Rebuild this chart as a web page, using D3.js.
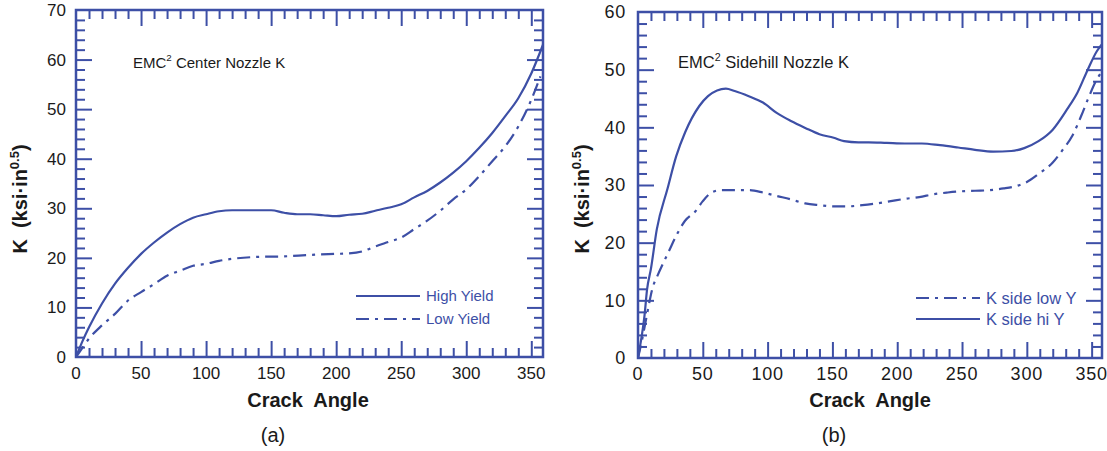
<!DOCTYPE html>
<html>
<head>
<meta charset="utf-8">
<script src="https://cdn.jsdelivr.net/npm/d3@7"></script>
<style>
  body { margin: 0; background: #fff; }
  svg { font-family: "Liberation Sans", Arial, sans-serif; }
  text { white-space: pre; }
</style>
</head>
<body>
<div id="chart"></div>
<script>
// ---- data ----
// panel (a) center nozzle
const highAngles = [0, 5, 10, 20, 30, 40, 50, 60, 70, 80, 90, 100, 110, 120, 130, 140, 150, 160, 170, 180, 190, 200, 210, 220, 230, 240, 250, 260, 270, 280, 290, 300, 310, 320, 330, 340, 350, 359];
const highK = [0, 3.2, 6, 10.8, 14.8, 18, 20.8, 23.1, 25.1, 26.8, 28.1, 28.8, 29.4, 29.6, 29.6, 29.6, 29.6, 29.1, 28.8, 28.8, 28.6, 28.4, 28.7, 28.9, 29.5, 30.1, 30.8, 32.2, 33.5, 35.2, 37.2, 39.5, 42.2, 45.2, 48.6, 52.2, 57.2, 63];
const lowAngles = [0, 4, 10, 20, 30, 40, 50, 60, 70, 80, 90, 100, 110, 120, 140, 160, 180, 200, 210, 220, 230, 240, 250, 260, 270, 280, 290, 300, 310, 320, 330, 340, 350, 357];
const lowK = [0, 1.5, 3.7, 6.4, 8.7, 11.4, 13.1, 14.7, 16.4, 17.4, 18.4, 18.8, 19.4, 19.8, 20.2, 20.3, 20.6, 20.8, 20.9, 21.3, 22.3, 23.2, 24.1, 25.8, 27.5, 29.5, 31.8, 33.8, 36.5, 39.5, 42.5, 46.5, 51.9, 56.6];

// panel (b) sidehill nozzle
const hiYAngles = [0, 3, 5, 7, 10, 14.5, 22.7, 29.5, 36.3, 47.3, 54, 61, 67.8, 74.6, 85.5, 96.4, 107, 118, 129, 140, 151, 159, 170, 178, 192, 206, 219, 233, 247, 260, 274, 288, 298, 309, 320, 331, 339, 347, 354, 358];
const hiYK = [0, 4, 7.3, 11.9, 15.5, 22.3, 29.3, 35, 39.1, 43.7, 45.4, 46.4, 46.7, 46.3, 45.4, 44.3, 42.5, 41.1, 39.9, 38.8, 38.2, 37.6, 37.4, 37.4, 37.3, 37.2, 37.2, 36.9, 36.5, 36.1, 35.8, 35.9, 36.4, 37.6, 39.6, 43.1, 46, 50, 53.2, 54.4];
const lowYAngles = [0, 3, 6.3, 11.7, 14.5, 24, 29.5, 36.3, 44.5, 50, 56.8, 63.7, 74.6, 85.5, 96.4, 107, 118, 129, 140, 151, 162, 173, 184, 195, 206, 217, 228, 239, 249, 260, 271, 282, 293, 299, 309, 320, 328, 335, 342, 347, 354, 358];
const lowYK = [0, 3, 6.8, 12.5, 14, 18.6, 21.2, 23.8, 25.5, 27.2, 28.7, 29.1, 29.1, 29.1, 28.7, 28.1, 27.5, 26.8, 26.5, 26.3, 26.3, 26.5, 26.8, 27.2, 27.6, 27.9, 28.4, 28.7, 28.9, 29, 29.1, 29.4, 29.9, 30.4, 31.9, 33.9, 36.2, 38.5, 42, 44.8, 48.3, 49.7];

const xTicks = [0, 50, 100, 150, 200, 250, 300, 350];

const blue = "#3d4fa6";
const dashDot = "13,6,3,6";

const svg = d3.select("#chart").append("svg")
    .attr("width", 1107)
    .attr("height", 451);

// inside ticks on one side of the frame, no labels
function tickAxis(g, axisFn, scale, values, len, transform) {
  g.append("g")
      .attr("transform", transform)
      .call(axisFn(scale).tickValues(values).tickSize(len).tickFormat(""))
      .call(a => a.select(".domain").remove())
      .call(a => a.selectAll("line").attr("stroke", blue).attr("stroke-width", 2));
}

function drawPanel(opt) {
  const x = d3.scaleLinear().domain([0, opt.xMax]).range([opt.left, opt.right]);
  const y = d3.scaleLinear().domain([0, opt.yMax]).range([opt.bottom, opt.top]);
  const g = svg.append("g");

  const xMinor = d3.range(10, opt.xMax, 10).filter(v => v % 50 !== 0);
  const xMajor = xTicks.filter(v => v > 0);
  const yMinor = d3.range(2, opt.yMax, 2).filter(v => v % 10 !== 0);
  const yMajor = d3.range(10, opt.yMax, 10);

  // bottom / top
  tickAxis(g, d3.axisTop, x, xMinor, 9, "translate(0," + opt.bottom + ")");
  tickAxis(g, d3.axisTop, x, xMajor, 16, "translate(0," + opt.bottom + ")");
  tickAxis(g, d3.axisBottom, x, xMinor, 9, "translate(0," + opt.top + ")");
  tickAxis(g, d3.axisBottom, x, xMajor, 16, "translate(0," + opt.top + ")");
  // left / right
  tickAxis(g, d3.axisRight, y, yMinor, 9, "translate(" + opt.left + ",0)");
  tickAxis(g, d3.axisRight, y, yMajor, 16, "translate(" + opt.left + ",0)");
  tickAxis(g, d3.axisLeft, y, yMinor, 9, "translate(" + opt.right + ",0)");
  tickAxis(g, d3.axisLeft, y, yMajor, 16, "translate(" + opt.right + ",0)");

  // frame
  g.append("rect")
      .attr("x", opt.left).attr("y", opt.top)
      .attr("width", opt.right - opt.left).attr("height", opt.bottom - opt.top)
      .attr("fill", "none").attr("stroke", blue).attr("stroke-width", 2.5);

  // tick labels
  g.selectAll(".xl").data(xTicks).enter().append("text")
      .attr("class", "xl")
      .attr("x", d => x(d)).attr("y", opt.bottom + 22)
      .attr("text-anchor", "middle")
      .style("font-size", opt.tickFont + "px").attr("fill", "#1a1a1a")
      .attr("letter-spacing", opt.tickSpacing)
      .text(d => d);
  g.selectAll(".ylab").data(d3.range(0, opt.yMax + 1, 10)).enter().append("text")
      .attr("class", "ylab")
      .attr("x", opt.left - opt.yLabelGap).attr("y", d => y(d))
      .attr("dy", "0.35em")
      .attr("text-anchor", "end")
      .style("font-size", opt.tickFont + "px").attr("fill", "#1a1a1a")
      .attr("letter-spacing", opt.tickSpacing)
      .text(d => d);

  // axis titles
  g.append("text")
      .attr("x", opt.xTitleX).attr("y", 407)
      .attr("text-anchor", "middle")
      .style("font-size", "20px").style("font-weight", "bold").attr("fill", "#1a1a1a")
      .text("Crack  Angle");

  const yt = g.append("text")
      .attr("transform", "translate(" + opt.yTitleX + "," + opt.yTitleY + ") rotate(-90)")
      .attr("text-anchor", "middle")
      .style("font-size", "20px").style("font-weight", "bold").attr("fill", "#1a1a1a");
  yt.append("tspan").text("K  (ksi·in");
  yt.append("tspan").attr("dy", -8).style("font-size", "13px").text("0.5");
  yt.append("tspan").attr("dy", 8).text(")");

  // panel caption
  g.append("text")
      .attr("x", opt.capX).attr("y", 442)
      .attr("text-anchor", "middle")
      .style("font-size", "20px").attr("fill", "#1a1a1a")
      .text(opt.caption);

  // annotation
  const ann = g.append("text")
      .attr("x", opt.annX).attr("y", 68)
      .style("font-size", opt.annFont + "px").attr("fill", "#1a1a1a");
  ann.append("tspan").text("EMC");
  ann.append("tspan").attr("dy", -7).style("font-size", (opt.annFont * 0.65) + "px").text("2");
  ann.append("tspan").attr("dy", 7).text(opt.annText);

  // curves
  const line = d3.line()
      .x(d => x(d[0])).y(d => y(d[1]))
      .curve(d3.curveMonotoneX);

  opt.series.forEach(s => {
    g.append("path")
        .datum(d3.zip(s.angles, s.values))
        .attr("d", line)
        .attr("fill", "none")
        .attr("stroke", blue).attr("stroke-width", 2.2)
        .attr("stroke-dasharray", s.dash);
  });

  // legend
  opt.series.forEach(s => {
    g.append("line")
        .attr("x1", opt.legX).attr("x2", opt.legX + 64)
        .attr("y1", s.legY).attr("y2", s.legY)
        .attr("stroke", blue).attr("stroke-width", 2)
        .attr("stroke-dasharray", s.dash);
    g.append("text")
        .attr("x", opt.legX + 70).attr("y", s.legY)
        .attr("dy", "0.35em")
        .style("font-size", opt.legFont + "px").attr("fill", blue)
        .text(s.name);
  });
}

drawPanel({
  left: 76, right: 543, top: 10, bottom: 357, xMax: 359, yMax: 70,
  tickFont: 17, tickSpacing: 0, yLabelGap: 10,
  xTitleX: 308, yTitleX: 27, yTitleY: 199,
  capX: 273, caption: "(a)",
  annX: 133, annFont: 15, annText: " Center Nozzle K",
  legX: 356, legFont: 15,
  series: [
    { name: "High Yield", angles: highAngles, values: highK, dash: null, legY: 296 },
    { name: "Low Yield", angles: lowAngles, values: lowK, dash: dashDot, legY: 319 }
  ]
});

drawPanel({
  left: 638, right: 1102, top: 12, bottom: 358, xMax: 358, yMax: 60,
  tickFont: 18, tickSpacing: 0.8, yLabelGap: 12,
  xTitleX: 870, yTitleX: 589, yTitleY: 199,
  capX: 834, caption: "(b)",
  annX: 678, annFont: 16.5, annText: " Sidehill Nozzle K",
  legX: 916, legFont: 16.5,
  series: [
    { name: "K side low Y", angles: lowYAngles, values: lowYK, dash: dashDot, legY: 298 },
    { name: "K side hi Y", angles: hiYAngles, values: hiYK, dash: null, legY: 319 }
  ]
});
</script>
</body>
</html>
